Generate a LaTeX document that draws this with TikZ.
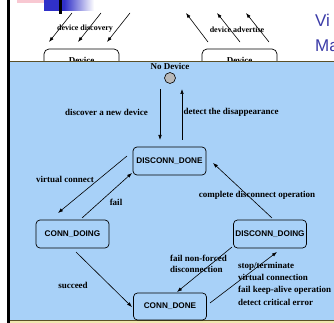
\documentclass[tikz,border=0pt]{standalone}
\usepackage{fontspec}
\setmainfont{Liberation Serif}
\newfontfamily\sansbox{Liberation Sans}
\usetikzlibrary{arrows.meta}
\definecolor{bgblue}{RGB}{168,209,248}
\definecolor{titleblue}{RGB}{60,60,168}
\definecolor{edgeolive}{RGB}{90,80,40}
\definecolor{paleyellow}{RGB}{240,232,176}
\definecolor{pinkbar}{RGB}{248,200,210}
\definecolor{decoblue}{RGB}{48,48,200}
\definecolor{stategray}{RGB}{185,185,185}
\begin{document}
\begin{tikzpicture}[x=1pt,y=-1pt,
 statebox/.style={draw=black,line width=0.7pt,rounded corners=4pt,minimum width=73pt,minimum height=28pt,inner sep=0pt,font=\sansbox\bfseries\fontsize{8.2}{9}\selectfont},
 devbox/.style={draw=black,line width=0.7pt,rounded corners=5pt,minimum width=75pt,minimum height=22pt,inner sep=0pt,font=\bfseries\fontsize{9}{10}\selectfont},
 lbl/.style={font=\bfseries\fontsize{9}{10}\selectfont,inner sep=0pt},
 toplbl/.style={font=\bfseries\fontsize{8}{9}\selectfont,inner sep=0pt},
 ttl/.style={anchor=base west,inner sep=0pt,text=titleblue,font=\sansbox\fontsize{17}{18}\selectfont},
 arr/.style={line width=0.6pt,-{Latex[length=5pt,width=3.6pt]}}
]
\useasboundingbox (0,0) rectangle (334,323);
\fill[white] (0,0) rectangle (334,323);
% slide decorations
\fill[pinkbar] (17,0) rectangle (55,3);
\fill[decoblue] (44,0) rectangle (64,11);
\shade[left color=decoblue,right color=white] (64,0) rectangle (94,11);
\fill[black] (59,0) rectangle (62,14);
\fill[black] (7,0) rectangle (10,323);
\node[ttl] (ttl1) at (315,27) {Vi};
\node[ttl] (ttl2) at (315,52) {Ma};
% device boxes (partly hidden)
\node[devbox] (devL) at (81.5,60) {Device};
\node[devbox] (devR) at (239.5,60) {Device};
% top arrows
\coordinate (a1s) at (72,13); \coordinate (a1e) at (49,42);
\coordinate (a2s) at (101,13); \coordinate (a2e) at (78,42);
\coordinate (a3s) at (130,13); \coordinate (a3e) at (107,42);
\coordinate (b1s) at (208,42); \coordinate (b1e) at (186,13);
\coordinate (b2s) at (240,42); \coordinate (b2e) at (217,13);
\coordinate (b3s) at (269,42); \coordinate (b3e) at (246,13);
\foreach \p in {a1,a2,a3,b1,b2,b3} {\draw[arr] (\p s) -- (\p e);}
\node[toplbl] (ldisc) at (85,29) {device discovery};
\node[toplbl] (ladv) at (237,30) {device advertise};
% blue panel
\fill[bgblue] (10,61) rectangle (334,320);
\draw[edgeolive,line width=0.8pt] (10,61) -- (334,61);
\fill[paleyellow] (10,320) rectangle (334,323);
\draw[edgeolive,line width=0.8pt] (10,320.4) -- (334,320.4);
% states
\node[lbl] (nodev) at (170,66) {No Device};
\node[circle,draw=black,fill=stategray,minimum size=11pt,inner sep=0pt,line width=0.6pt] (start) at (170,78) {};
\node[statebox] (dd) at (169.5,161) {DISCONN\_DONE};
\node[statebox] (cg) at (72.5,234) {CONN\_DOING};
\node[statebox] (dg) at (270,234) {DISCONN\_DOING};
\node[statebox,minimum height=27pt] (cd) at (170,306.5) {CONN\_DONE};
% connector ends
\coordinate (n1s) at (160,89); \coordinate (n1e) at (160,140);
\coordinate (n2s) at (182,140); \coordinate (n2e) at (182,89);
\coordinate (vcs) at (127,156); \coordinate (vce) at (58,213);
\coordinate (fas) at (82,218); \coordinate (fae) at (132,173);
\coordinate (cds) at (272,218); \coordinate (cde) at (213,163);
\coordinate (sus) at (76,252); \coordinate (sue) at (132,307);
\coordinate (fns) at (232,247); \coordinate (fne) at (177,292);
\coordinate (sts) at (210,303); \coordinate (ste) at (277,252);
\draw[arr] (n1s) -- (n1e);
\draw[arr] (n2s) -- (n2e);
\draw[arr] (vcs) -- (vce);
\draw[arr] (fas) -- (fae);
\draw[arr] (cds) -- (cde);
\draw[arr] (sus) -- (sue);
\draw[arr] (fns) -- (fne);
\draw[arr] (sts) -- (ste);
% labels
\node[lbl] (l1) at (106.5,112) {discover a new device};
\node[lbl] (l2) at (231,112) {detect the disappearance};
\node[lbl] (l3) at (65,179) {virtual connect};
\node[lbl] (l4) at (116,202) {fail};
\node[lbl] (l5) at (257,195.5) {complete disconnect operation};
\node[lbl] (l6) at (73,285) {succeed};
\node[lbl,anchor=west] (l7) at (170,258) {fail non-forced};
\node[lbl,anchor=west] (l8) at (170,269) {disconnection};
\node[lbl,anchor=west] (l9) at (238,266) {stop/terminate};
\node[lbl,anchor=west] (l10) at (238,277) {virtual connection};
\node[lbl,anchor=west] (l11) at (238,290) {fail keep-alive operation};
\node[lbl,anchor=west] (l12) at (238,302.5) {detect critical error};
\end{tikzpicture}
\end{document}
